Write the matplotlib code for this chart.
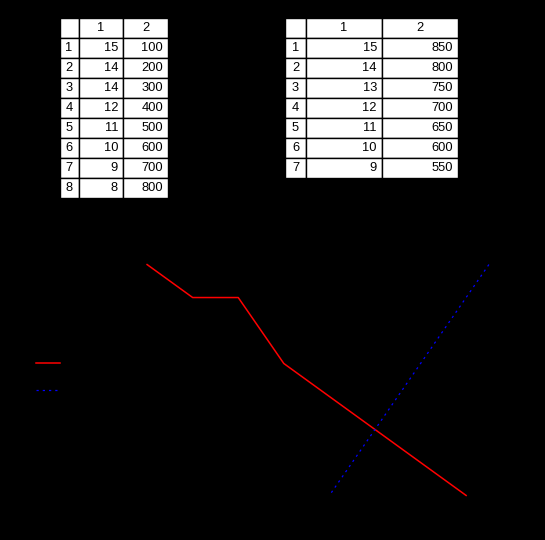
import matplotlib
matplotlib.use("Agg")
import matplotlib.pyplot as plt

plt.rcParams["font.family"] = ["Liberation Sans", "DejaVu Sans"]

# table 1 (red series)
t1_rows = ["1", "2", "3", "4", "5", "6", "7", "8"]
t1_col1 = [15, 14, 14, 12, 11, 10, 9, 8]
t1_col2 = [100, 200, 300, 400, 500, 600, 700, 800]

# table 2 (blue series) - only 7 rows are visible in the table widget
t2_rows = ["1", "2", "3", "4", "5", "6", "7"]
t2_col1 = [15, 14, 13, 12, 11, 10, 9]
t2_col2 = [850, 800, 750, 700, 650, 600, 550]

# blue line keeps going one step past the visible table rows
blue_y = [15, 14, 13, 12, 11, 10, 9, 8]
blue_x = [850, 800, 750, 700, 650, 600, 550, 500]

col_headers = ["", "1", "2"]

W, H = 545, 540
fig = plt.figure(figsize=(W / 100, H / 100), dpi=100, facecolor="black")


def px_axes(x0, y0, x1, y1):
    return fig.add_axes([x0 / W, 1 - y1 / H, (x1 - x0) / W, (y1 - y0) / H])


def draw_table(ax, rows, c1, c2, widths_px, row_pad, fontsize=9.3):
    ax.axis("off")
    cells = [col_headers] + [[r, str(a), str(b)] for r, a, b in zip(rows, c1, c2)]
    total = sum(widths_px)
    tbl = ax.table(cellText=cells, colWidths=[w / total for w in widths_px],
                   bbox=[0, 0, 1, 1], cellLoc="right")
    tbl.auto_set_font_size(False)
    tbl.set_fontsize(fontsize)
    for (r, c), cell in tbl.get_celld().items():
        cell.set_facecolor("white")
        cell.set_edgecolor("black")
        cell.set_linewidth(1.0)
        w = widths_px[c]
        txt = cell.get_text()
        if r == 0:
            txt.set_ha("center")
        elif c == 0:
            txt.set_ha("left")
            cell.PAD = row_pad / w
        else:
            txt.set_ha("right")
            cell.PAD = 5.0 / w
    return tbl


ax_t1 = px_axes(60, 18, 168, 198)
draw_table(ax_t1, t1_rows, t1_col1, t1_col2, [19, 44, 45], row_pad=5.5)

ax_t2 = px_axes(285, 18, 458, 178)
draw_table(ax_t2, t2_rows, t2_col1, t2_col2, [21, 76, 76], row_pad=7.0)

# ── main plot (frame and ticks are black on black) ──────────────────────
ax = px_axes(130, 253, 506, 507)
ax.set_facecolor("black")
red_line, = ax.plot(t1_col2, t1_col1, color="#ff0000", linewidth=1.1)
blue_line, = ax.plot(blue_x, blue_y, color="#0000ff", linewidth=0.9,
                     dashes=(1.8, 3.2))
for s in ax.spines.values():
    s.set_color("black")
ax.tick_params(colors="black", labelleft=False, labelbottom=False)

fig.legend([red_line, blue_line], ["Table 1", "Table 2"],
           loc="upper left", bbox_to_anchor=(25 / W, 1 - 347 / H),
           frameon=False, fontsize=9, labelspacing=1.2, handlelength=1.9,
           labelcolor="black")

fig.savefig("out.png", dpi=100, facecolor="black")
